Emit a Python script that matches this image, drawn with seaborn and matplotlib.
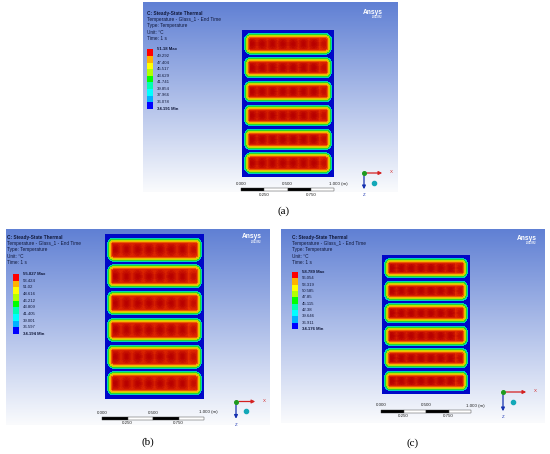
import numpy as np
import matplotlib
matplotlib.use('Agg')
import matplotlib.pyplot as plt
import seaborn as sns
from matplotlib.colors import ListedColormap, LinearSegmentedColormap
from matplotlib.patches import Rectangle

# ---- values ----
captions = ['(a)', '(b)', '(c)']
t_max = [51.18, 55.827, 58.789]
t_min = [34.191, 34.194, 34.176]
legend_a = ['51.18 Max', '49.292', '47.404', '45.517', '43.629', '41.741',
            '39.854', '37.966', '36.078', '34.191 Min']
legend_b = ['55.827 Max', '53.424', '51.02', '48.616', '46.212', '43.809',
            '41.405', '39.001', '36.597', '34.194 Min']
legend_c = ['58.789 Max', '56.054', '53.319', '50.585', '47.85', '45.115',
            '42.38', '39.646', '36.911', '34.176 Min']
info_lines = ['C: Steady-State Thermal', 'Temperature - Glass_1 - End Time',
              'Type: Temperature', 'Unit: °C', 'Time: 1 s']
scale_top = ['0.000', '0.500', '1.000 (m)']
scale_bottom = ['0.250', '0.750']

n_panes = 6   # glass strips per model
n_blobs = 8   # hot spots per strip
# legend level (0 = Min .. 9 = Max) read at each pixel step in from the strip edge
rim_level = [2.6, 4.0, 5.4, 6.6, 7.6, 8.3]
# drop of level with pixel distance from a hot-spot centre
blob_drop = [0.0, 0.05, 0.15, 0.3, 0.45, 0.6, 0.75]
# peak level of the 8 hot spots along a strip (last one is cooler)
blob_peak = [9.0, 9.0, 9.0, 9.0, 9.0, 9.0, 9.0, 8.7]

ansys_colors = ['#0000ff', '#00b2ff', '#00ffff', '#00ffb2', '#00ff00',
                '#b2ff00', '#ffff00', '#ffb200', '#ff0000']
field_colors = ['#0008c8', '#0070e6', '#00c8e0', '#00dca0', '#28d828',
                '#a0dc00', '#f0e100', '#f59a00', '#e63000', '#b80000']

# ---- layout (pixels in a 550 x 454 canvas) ----
W, H = 550, 454
layout = [
    dict(panel=(143, 2, 255, 190), heat=(242, 30, 92, 147), info=(147, 14),
         leg=(147, 49.3, 6.6), bar=(241, 188, 93), triad=(364, 173, 21, 19),
         logo=(373, 12), cap=(284, 211), labels=legend_a),
    dict(panel=(6, 229, 264, 196), heat=(105, 234, 99, 165), info=(7, 238),
         leg=(13, 274, 6.67), bar=(102, 416.5, 102), triad=(236, 401.5, 22, 20),
         logo=(252, 237), cap=(148, 442), labels=legend_b),
    dict(panel=(281, 229, 264, 194), heat=(382, 255, 88, 139), info=(292, 238),
         leg=(292, 272, 6.33), bar=(381, 409.5, 90), triad=(503, 392, 26, 22),
         logo=(527, 238), cap=(413, 443), labels=legend_c),
]


def box(x, y, w, h):
    return [x / W, 1 - (y + h) / H, w / W, h / H]


def glass_field(w, h, lo, hi):
    X, Y = np.meshgrid(np.arange(w) + 0.5, np.arange(h) + 0.5)
    my, gap, mx, pad, r = 0.022 * h, 0.017 * h, 2.2, 2.5, 6.0
    ph = (h - 2 * my - (n_panes - 1) * gap) / n_panes
    pw = w - 2 * mx
    rim = np.array(rim_level + [99.0])
    drop = np.array(blob_drop)
    peaks = np.array(blob_peak)
    bw = (pw - 2 * pad) / n_blobs
    lev = np.zeros((h, w))
    dx = np.minimum(X - mx, mx + pw - X)
    col = np.clip(((X - mx - pad) // bw).astype(int), 0, n_blobs - 1)
    cx = mx + pad + (col + 0.5) * bw
    for k in range(n_panes):
        top = my + k * (ph + gap)
        dy = np.minimum(Y - top, top + ph - Y)
        qx = np.clip(r - dx, 0, None)
        qy = np.clip(r - dy, 0, None)
        d = np.where((qx > 0) & (qy > 0), r - np.hypot(qx, qy), np.minimum(dx, dy))
        rim_val = rim[np.clip(np.floor(d).astype(int), 0, len(rim) - 1)]
        rr = np.hypot(X - cx, 0.8 * (Y - (top + ph / 2)))
        blob_val = peaks[col] - drop[np.clip(rr.astype(int), 0, len(drop) - 1)]
        lev = np.where(d > 0, np.minimum(rim_val, blob_val), lev)
    return lo + lev / 9 * (hi - lo)


sns.set_theme(style='white')
plt.rcParams['font.family'] = ['Liberation Sans', 'DejaVu Sans']

fig = plt.figure(figsize=(5.5, 4.54), dpi=100)
fig.patch.set_facecolor('white')
bg = fig.add_axes([0, 0, 1, 1])

field_cmap = LinearSegmentedColormap.from_list('ansys_shaded', field_colors)
legend_cmap = ListedColormap(ansys_colors)
top_c = np.array([96, 128, 212]) / 255
bot_c = np.array([250, 251, 253]) / 255

for i, lay in enumerate(layout):
    px, py, pw_, ph_ = lay['panel']
    t = np.linspace(0, 1, 200)[:, None, None]
    grad = (1 - t) * top_c + t * bot_c
    grad = np.repeat(grad, 2, axis=1)
    bg.imshow(grad, extent=(px, px + pw_, py + ph_, py), aspect='auto', zorder=0)

    # info block
    ix, iy = lay['info']
    for j, line in enumerate(info_lines):
        bg.text(ix, iy + j * 6, line, fontsize=3.4, va='center', ha='left',
                color='#10183a', fontweight='bold' if j == 0 else 'normal')

    # legend labels
    lx, ly, step = lay['leg']
    for j, lab in enumerate(lay['labels']):
        bg.text(lx + 10, ly + j * step, lab, fontsize=3.1, va='center', ha='left',
                color='#10183a', fontweight='bold' if j in (0, 9) else 'normal')

    # logo
    gx, gy = lay['logo']
    bg.text(gx, gy, 'Ansys', fontsize=4.8, fontweight='bold', color='white',
            ha='center', va='center')
    bg.text(gx + 4, gy + 5, '2023 R2', fontsize=1.8, fontweight='bold',
            color='white', ha='center', va='center')

    # scale bar
    bx, by, bl = lay['bar']
    for s in range(4):
        bg.add_patch(Rectangle((bx + s * bl / 4, by), bl / 4, 3,
                               facecolor='black' if s % 2 == 0 else 'white',
                               edgecolor='#333333', lw=0.3, zorder=3))
    bg.text(bx, by - 4, scale_top[0], fontsize=3.2, ha='center', va='center', color='#222222')
    bg.text(bx + bl / 2, by - 4, scale_top[1], fontsize=3.2, ha='center', va='center', color='#222222')
    bg.text(bx + bl - 5, by - 4, scale_top[2], fontsize=3.2, ha='left', va='center', color='#222222')
    bg.text(bx + bl / 4, by + 6.5, scale_bottom[0], fontsize=3.2, ha='center', va='center', color='#222222')
    bg.text(bx + 3 * bl / 4, by + 6.5, scale_bottom[1], fontsize=3.2, ha='center', va='center', color='#222222')

    # axis triad
    tx, ty, lx_, lz_ = lay['triad']
    bg.annotate('', xy=(tx + lx_, ty), xytext=(tx, ty),
                arrowprops=dict(arrowstyle='-|>', color='#d42020', lw=0.9, mutation_scale=5), zorder=4)
    bg.annotate('', xy=(tx, ty + lz_), xytext=(tx, ty),
                arrowprops=dict(arrowstyle='-|>', color='#1530b0', lw=0.9, mutation_scale=5), zorder=4)
    bg.plot([tx], [ty], 'o', color='#1e9a1e', ms=2.6, zorder=5)
    bg.plot([tx + 10], [ty + 9.5], 'o', color='#13a8b8', ms=3.0, zorder=5)
    bg.text(tx + lx_ + 6, ty - 1, 'X', fontsize=3.2, color='#d42020', ha='center', va='center')
    bg.text(tx, ty + lz_ + 3, 'Z', fontsize=3.2, color='#1530b0', ha='center', va='center')

    # caption
    cx, cy = lay['cap']
    bg.text(cx, cy, captions[i], fontsize=8, family='Liberation Serif',
            ha='center', va='center', color='black')

bg.set_xlim(0, W)
bg.set_ylim(H, 0)
bg.axis('off')

for i, lay in enumerate(layout):
    hx, hy, hw, hh = lay['heat']
    ax = fig.add_axes(box(hx, hy, hw, hh))
    field = glass_field(hw, hh, t_min[i], t_max[i])
    sns.heatmap(field, ax=ax, cmap=field_cmap, vmin=t_min[i], vmax=t_max[i],
                cbar=False, xticklabels=False, yticklabels=False)
    ax.axis('off')

    lx, ly, step = lay['leg']
    lax = fig.add_axes(box(lx, ly, 6, 9 * step))
    sns.heatmap(np.arange(8, -1, -1).reshape(9, 1), ax=lax, cmap=legend_cmap,
                vmin=-0.5, vmax=8.5, cbar=False, xticklabels=False, yticklabels=False)
    lax.axis('off')

fig.savefig('out.png', dpi=100, facecolor='white')
